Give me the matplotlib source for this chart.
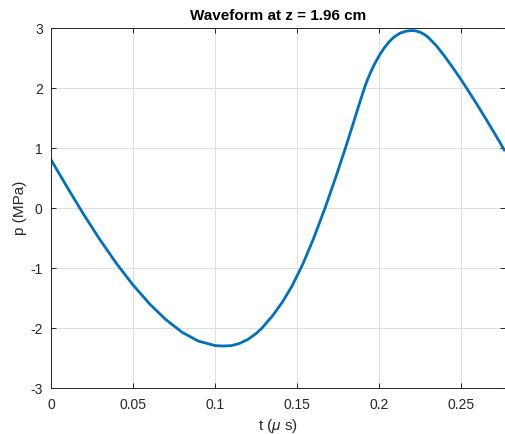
import matplotlib
matplotlib.use('Agg')
import matplotlib.pyplot as plt

# waveform: time (us) and pressure (MPa)
t_us = [0.0, 0.01, 0.02, 0.03, 0.04, 0.05, 0.06, 0.07, 0.08, 0.09,
        0.10, 0.1045, 0.11, 0.115, 0.12, 0.125, 0.1285, 0.135, 0.141, 0.147,
        0.1535, 0.16, 0.167, 0.174, 0.18, 0.185, 0.1875, 0.19, 0.1915, 0.193,
        0.1955, 0.1975, 0.2004, 0.203, 0.206, 0.209, 0.2128, 0.2165, 0.2199, 0.222,
        0.225, 0.2275, 0.23, 0.235, 0.24, 0.245, 0.25, 0.2535, 0.26, 0.2657,
        0.27, 0.2764]
p_mpa = [0.805, 0.34, -0.11, -0.535, -0.9275, -1.2825, -1.595, -1.86, -2.0725, -2.22,
         -2.2925, -2.30, -2.294, -2.2565, -2.1915, -2.094, -2.005, -1.80, -1.572, -1.299,
         -0.938, -0.515, -0.008, 0.542, 1.040, 1.472, 1.692, 1.907, 2.029, 2.14,
         2.30, 2.41, 2.552, 2.661, 2.765, 2.846, 2.914, 2.947, 2.958, 2.954,
         2.93, 2.895, 2.845, 2.704, 2.53, 2.34, 2.14, 1.995, 1.715, 1.461,
         1.265, 0.967]
xticks = [0, 0.05, 0.1, 0.15, 0.2, 0.25]
xticklabels = ['0', '0.05', '0.1', '0.15', '0.2', '0.25']
yticks = [-3, -2, -1, 0, 1, 2, 3]

plt.rcParams['font.family'] = ['Liberation Sans', 'DejaVu Sans']
plt.rcParams['axes.unicode_minus'] = False
plt.rcParams['mathtext.fontset'] = 'custom'
plt.rcParams['mathtext.it'] = 'Liberation Sans:italic'
plt.rcParams['mathtext.rm'] = 'Liberation Sans'

fig = plt.figure(figsize=(5.05, 4.34), dpi=100)
ax = fig.add_axes([51/505, 46/434, 454/505, 360/434])

ax.plot(t_us, p_mpa, color='#0072BD', lw=2.0, solid_joinstyle='round')

ax.set_xlim(0, 454/1640)
ax.set_ylim(-3, 3)
ax.set_xticks(xticks)
ax.set_xticklabels(xticklabels)
ax.set_yticks(yticks)
ax.grid(True, color='#dfdfdf', lw=0.7)
ax.set_axisbelow(True)

for s in ax.spines.values():
    s.set_color('#262626')
    s.set_linewidth(0.7)
ax.tick_params(direction='in', length=3.6, width=0.7, color='#262626',
               labelcolor='#262626', labelsize=10, top=True, right=True)
ax.tick_params(axis='x', pad=7)
ax.tick_params(axis='y', pad=6)

ax.set_title('Waveform at z = 1.96 cm', fontsize=11, fontweight='bold', pad=6)
ax.set_xlabel(r't ($\mu$ s)', fontsize=11, color='#262626', labelpad=4)
ax.set_ylabel('p (MPa)', fontsize=11, color='#262626', labelpad=2)

fig.savefig('out.png', dpi=100)
